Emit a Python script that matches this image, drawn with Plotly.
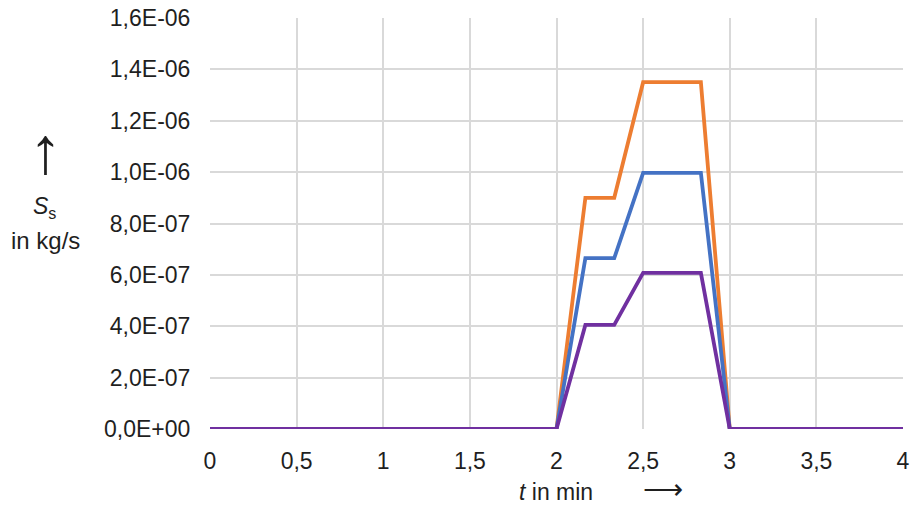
import plotly.graph_objects as go

t = [0, 2, 2.1667, 2.3333, 2.5, 2.8333, 3, 4]
s_orange = [0, 0, 9.0e-7, 9.0e-7, 1.35e-6, 1.35e-6, 0, 0]
s_blue = [0, 0, 6.65e-7, 6.65e-7, 9.97e-7, 9.97e-7, 0, 0]
s_purple = [0, 0, 4.05e-7, 4.05e-7, 6.08e-7, 6.08e-7, 0, 0]

x_ticks = [0, 0.5, 1, 1.5, 2, 2.5, 3, 3.5, 4]
x_ticktext = ["0", "0,5", "1", "1,5", "2", "2,5", "3", "3,5", "4"]
y_ticks = [0, 2e-7, 4e-7, 6e-7, 8e-7, 1e-6, 1.2e-6, 1.4e-6, 1.6e-6]
y_ticktext = ["0,0E+00", "2,0E-07", "4,0E-07", "6,0E-07", "8,0E-07",
              "1,0E-06", "1,2E-06", "1,4E-06", "1,6E-06"]

FONT = "Liberation Sans, Arial, sans-serif"
TXT = "#1f1f1f"
W, H = 910, 511
L, R, T, B = 210, 7, 18, 82
PW, PH = W - L - R, H - T - B

def px(x):
    return (x - L) / PW

def py(y):
    return (H - B - y) / PH

fig = go.Figure()
for ys, col in [(s_orange, "#ED7D31"), (s_blue, "#4472C4"), (s_purple, "#7030A0")]:
    fig.add_trace(go.Scatter(x=t, y=ys, mode="lines",
                             line=dict(color=col, width=3.8), showlegend=False))

fig.update_layout(
    width=W, height=H,
    margin=dict(l=L, r=R, t=T, b=B, autoexpand=False),
    paper_bgcolor="white", plot_bgcolor="white",
    font=dict(family=FONT, size=23, color=TXT),
    xaxis=dict(range=[0, 4], tickvals=x_ticks, ticktext=x_ticktext,
               showgrid=True, gridcolor="#d9d9d9", gridwidth=1.5,
               zeroline=False, showline=False, automargin=False,
               ticks="outside", ticklen=11, tickcolor="rgba(0,0,0,0)"),
    yaxis=dict(range=[0, 1.6e-6], tickvals=y_ticks, ticktext=y_ticktext,
               showgrid=True, gridcolor="#d9d9d9", gridwidth=1.5,
               zeroline=False, showline=False, automargin=False,
               ticks="outside", ticklen=14, tickcolor="rgba(0,0,0,0)"),
)

ann = [
    dict(text="<i>t</i> in min", x=px(556), y=py(492), size=23),
    dict(text="⟶", x=px(663), y=py(490), size=28),
    dict(text="↑", x=px(45), y=py(150), size=66),
    dict(text="<i>S</i><sub>s</sub>", x=px(44), y=py(207), size=23),
    dict(text="in kg/s", x=px(45), y=py(240), size=24),
]
for a in ann:
    fig.add_annotation(text=a["text"], x=a["x"], y=a["y"], xref="paper", yref="paper",
                       showarrow=False, xanchor="center", yanchor="middle",
                       font=dict(family=FONT, size=a["size"], color=TXT))

fig.write_html("out.html", config={"displayModeBar": False},
               post_script="document.body.style.margin='0px';")
